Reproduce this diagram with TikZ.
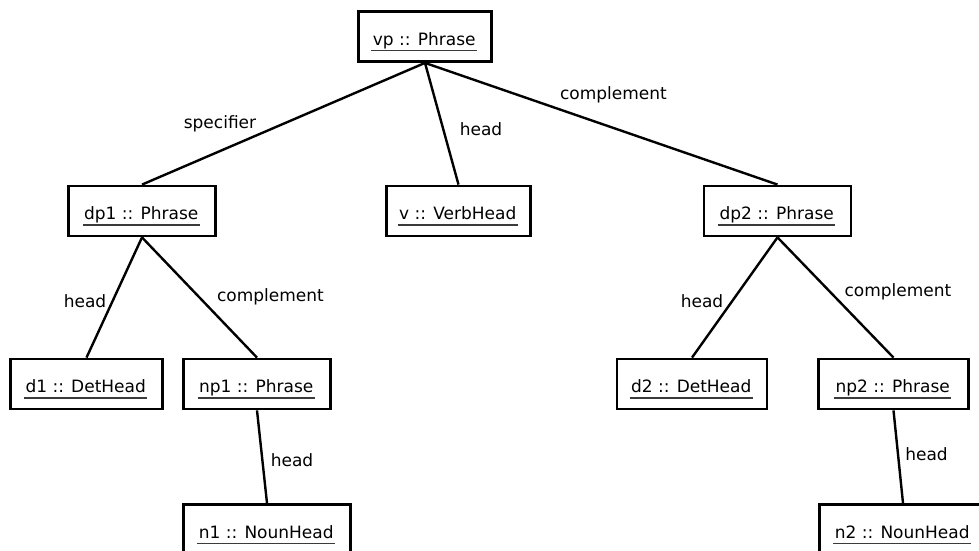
\documentclass[tikz,border=0pt]{standalone}
\usepackage{fontspec}
\setmainfont{DejaVu Sans}
\definecolor{ulgray}{HTML}{3A3A3A}
% object name: text with an underline, pushed slightly below the box centre
\newcommand\objname[1]{\setbox0\hbox{#1}%
  \vbox{\offinterlineskip
    \kern10.5pt
    \hbox{\vrule width0pt height12.5pt depth4pt\copy0}%
    \kern0.5pt
    \hbox{\kern-1.5pt\textcolor{ulgray}{\rule{\dimexpr\wd0+3pt\relax}{1.5pt}}}}}
\tikzset{
  obj/.style={draw=black, line width=2.8pt, fill=white, rectangle,
    minimum height=50pt, inner sep=0pt, font=\fontsize{17}{20}\selectfont},
  link/.style={draw=black, line width=2.4pt},
  lbl/.style={font=\fontsize{17}{20}\selectfont, anchor=base, inner sep=0pt}
}
\begin{document}
\begin{tikzpicture}[x=1pt,y=-1pt]
\path[use as bounding box] (0,0) rectangle (979,551);
\clip (0,0) rectangle (979,551);

% objects
\node[obj, minimum width=133pt] (vp)  at (425,36.5)  {\objname{vp :: Phrase}};
\node[obj, minimum width=147pt] (dp1) at (142,211)   {\objname{dp1 :: Phrase}};
\node[obj, minimum width=144pt] (v)   at (458.5,211) {\objname{v :: VerbHead}};
\node[obj, minimum width=147pt] (dp2) at (777.5,211) {\objname{dp2 :: Phrase}};
\node[obj, minimum width=152pt] (d1)  at (86.5,384)  {\objname{d1 :: DetHead}};
\node[obj, minimum width=147pt] (np1) at (257,384)   {\objname{np1 :: Phrase}};
\node[obj, minimum width=150pt] (d2)  at (692,384)   {\objname{d2 :: DetHead}};
\node[obj, minimum width=150pt] (np2) at (893.5,384) {\objname{np2 :: Phrase}};
\node[obj, minimum width=167pt] (n1)  at (267,529.5) {\objname{n1 :: NounHead}};
\node[obj, minimum width=167pt] (n2)  at (903,529.5) {\objname{n2 :: NounHead}};

% links
\draw[link] (vp.south)  -- (dp1.north);
\draw[link] (vp.south)  -- (v.north);
\draw[link] (vp.south)  -- (dp2.north);
\draw[link] (dp1.south) -- (d1.north);
\draw[link] (dp1.south) -- (np1.north);
\draw[link] (dp2.south) -- (d2.north);
\draw[link] (dp2.south) -- (np2.north);
\draw[link] (np1.south) -- (n1.north);
\draw[link] (np2.south) -- (n2.north);

% role labels
\node[lbl] (l1) at (220,128)   {specifier};
\node[lbl] (l2) at (481,135)   {head};
\node[lbl] (l3) at (613.5,99)  {complement};
\node[lbl] (l4) at (85,307)    {head};
\node[lbl] (l5) at (270.5,301) {complement};
\node[lbl] (l6) at (702,307)   {head};
\node[lbl] (l7) at (898,296)   {complement};
\node[lbl] (l8) at (292,466)   {head};
\node[lbl] (l9) at (926.5,460) {head};
\end{tikzpicture}
\end{document}
